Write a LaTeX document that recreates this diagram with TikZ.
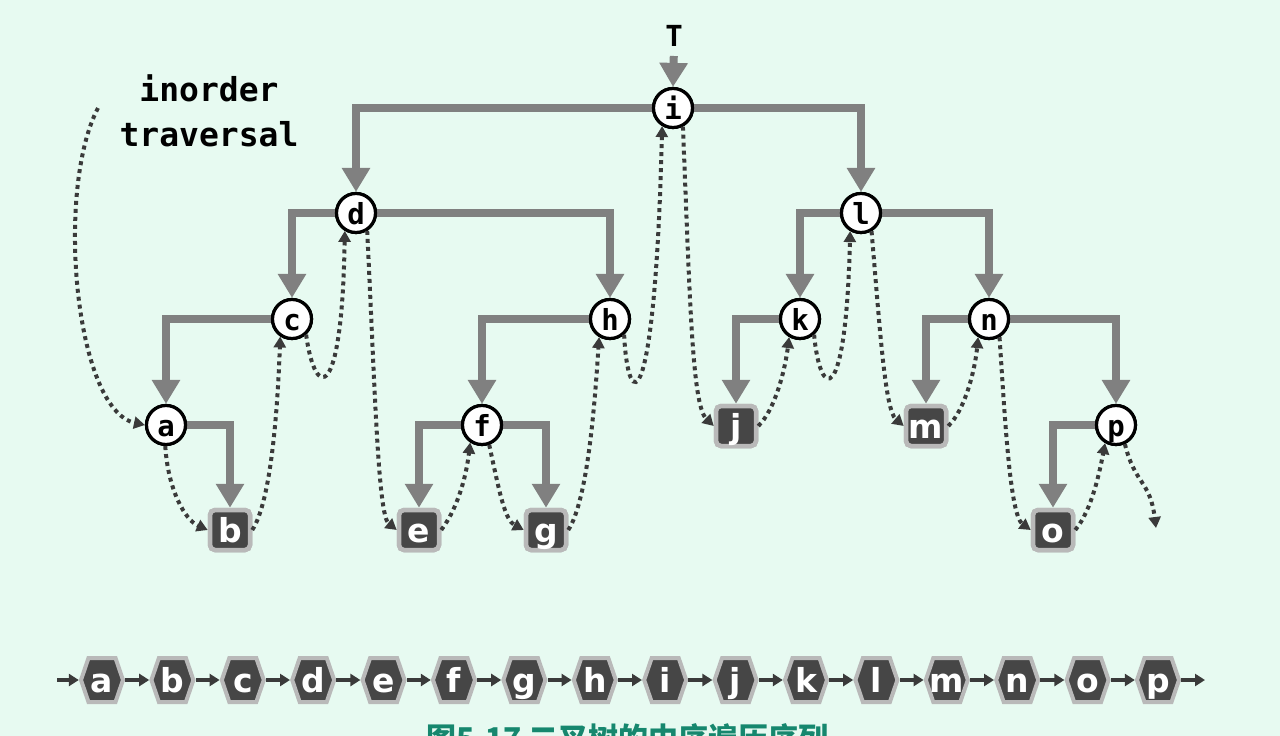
\documentclass[tikz,border=0pt]{standalone}
\usepackage{fontspec}
\setmainfont{DejaVu Sans}
\newfontfamily\monofnt{DejaVu Sans Mono}
\newfontfamily\cjkfnt{Noto Sans CJK SC}
\usetikzlibrary{arrows.meta}
\definecolor{bgmint}{RGB}{231,250,241}
\definecolor{edgegray}{RGB}{128,128,128}
\definecolor{dotgray}{RGB}{58,58,58}
\definecolor{leafdark}{RGB}{70,70,70}
\definecolor{leafrim}{RGB}{185,185,185}
\definecolor{captiongreen}{RGB}{22,135,110}
\tikzset{
  inner/.style={circle, draw=black, line width=3.2pt, fill=white, minimum size=39pt, inner sep=0pt,
    font=\monofnt\bfseries\fontsize{29}{29}\selectfont, text height=22pt, text depth=0pt},
  leaf/.style={rectangle, rounded corners=5pt, draw=leafrim, line width=4.5pt, fill=leafdark,
    minimum size=40pt, inner sep=0pt, text=white,
    font=\bfseries\fontsize{33}{33}\selectfont, text height=25pt, text depth=0pt},
  hexnode/.style={rectangle, minimum width=46pt, minimum height=48pt, inner sep=0pt, text=white,
    font=\bfseries\fontsize{33}{33}\selectfont, text height=24pt, text depth=0pt},
  hexline/.style={draw=leafrim, line width=4pt, fill=leafdark, line join=miter},
  treeedge/.style={draw=edgegray, line width=8pt, -{Triangle[width=27pt,length=24pt]}},
  thread/.style={draw=dotgray, line width=4pt, dash pattern=on 4pt off 4pt,
    -{Triangle[width=12pt,length=11pt]}},
  seqarrow/.style={draw=dotgray, line width=3.5pt, -{Triangle[width=12pt,length=10pt]}},
  labeltext/.style={font=\monofnt\bfseries\fontsize{33}{45}\selectfont, align=center, inner sep=0pt}
}
\begin{document}
\begin{tikzpicture}[x=1pt,y=-1pt]
\useasboundingbox[fill=bgmint] (0,0) rectangle (1280,736);

% nodes
\node[inner] (i) at (673,108) {i};
\node[inner] (d) at (356,213) {d};
\node[inner] (l) at (861,213) {l};
\node[inner] (c) at (292,319) {c};
\node[inner] (h) at (610,319) {h};
\node[inner] (k) at (800,319) {k};
\node[inner] (n) at (989,319) {n};
\node[inner] (a) at (166,425) {a};
\node[inner] (f) at (482,425) {f};
\node[inner] (p) at (1116,425) {p};
\node[leaf] (b) at (230,530) {b};
\node[leaf] (e) at (419,530) {e};
\node[leaf] (g) at (546,530) {g};
\node[leaf] (j) at (736,426) {j};
\node[leaf] (m) at (926,426) {m};
\node[leaf] (o) at (1053,530) {o};

\node[font=\monofnt\bfseries\fontsize{29}{29}\selectfont, inner sep=0pt, anchor=south] (T) at (674,47) {T};
\node[labeltext] (lab) at (209,111) {inorder\\traversal};
\coordinate (tstart) at (98,108);
\coordinate (pend) at (1156,528);

% tree edges
\draw[treeedge, shorten <=9pt] (T.south) -- (i.north);
\draw[treeedge] (i) -| (d);
\draw[treeedge] (i) -| (l);
\draw[treeedge] (d) -| (c);
\draw[treeedge] (d) -| (h);
\draw[treeedge] (c) -| (a);
\draw[treeedge] (a) -| (b);
\draw[treeedge] (h) -| (f);
\draw[treeedge] (f) -| (e);
\draw[treeedge] (f) -| (g);
\draw[treeedge] (l) -| (k);
\draw[treeedge] (l) -| (n);
\draw[treeedge] (k) -| (j);
\draw[treeedge] (n) -| (m);
\draw[treeedge] (n) -| (p);
\draw[treeedge] (p) -| (o);

% redraw nodes on top of edges
\foreach \nd/\x/\y in {i/673/108,d/356/213,l/861/213,c/292/319,h/610/319,k/800/319,n/989/319,a/166/425,f/482/425,p/1116/425}{
  \node[inner] (r\nd) at (\x,\y) {\nd};
}
\foreach \nd/\x/\y in {b/230/530,e/419/530,g/546/530,j/736/426,m/926/426,o/1053/530}{
  \node[leaf] (r\nd) at (\x,\y) {\nd};
}

% inorder thread
\draw[thread] (tstart) .. controls (55,190) and (75,410) .. (a.west);
\draw[thread] (a.-92) .. controls (168,490) and (185,520) .. (b.west);
\draw[thread] (b.east) .. controls (272,500) and (278,400) .. (c.-124);
\draw[thread] (c.-48) .. controls (315,400) and (342,405) .. (d.-122);
\draw[thread] (d.-58) .. controls (375,390) and (378,515) .. (e.west);
\draw[thread] (e.east) .. controls (460,505) and (467,470) .. (f.-124);
\draw[thread] (f.-70) .. controls (500,495) and (505,520) .. (g.west);
\draw[thread] (g.east) .. controls (588,500) and (595,400) .. (h.-121);
\draw[thread] (h.-48) .. controls (628,415) and (655,420) .. (i.-121);
\draw[thread] (i.-62) .. controls (690,300) and (692,405) .. (j.west);
\draw[thread] (j.east) .. controls (775,410) and (785,370) .. (k.-121);
\draw[thread] (k.-48) .. controls (820,400) and (846,410) .. (l.-121);
\draw[thread] (l.-60) .. controls (880,330) and (885,410) .. (m.west);
\draw[thread] (m.east) .. controls (965,410) and (975,370) .. (n.-121);
\draw[thread] (n.-60) .. controls (1005,420) and (1010,515) .. (o.west);
\draw[thread] (o.east) .. controls (1092,510) and (1100,470) .. (p.-121);
\draw[thread] (p.-65) .. controls (1135,485) and (1150,480) .. (pend);

% sequence
\foreach \ch [count=\k from 0] in {a,b,c,d,e,f,g,h,i,j,k,l,m,n,o,p}{
  \pgfmathsetmacro\xx{102+70.4*\k}
  \draw[hexline] (\xx-21,680) -- ++(7.5,-22) -- ++(27,0) -- ++(7.5,22) -- ++(-7.5,22) -- ++(-27,0) -- cycle;
  \node[hexnode] (s\ch) at (\xx,680) {\ch};
}
\coordinate (seqstart) at (57,680);
\coordinate (seqend) at (1205,680);
\draw[seqarrow] (seqstart) -- (sa.west);
\foreach \u/\v in {a/b,b/c,c/d,d/e,e/f,f/g,g/h,h/i,i/j,j/k,k/l,l/m,m/n,n/o,o/p}{
  \draw[seqarrow] (s\u.east) -- (s\v.west);
}
\draw[seqarrow] (sp.east) -- (seqend);

% caption (cut off at the bottom edge)
\node[font=\cjkfnt\bfseries\fontsize{30}{30}\selectfont, text=captiongreen, anchor=base west, inner sep=0pt] (cap) at (426,749) {图5.17 二叉树的中序遍历序列};
\end{tikzpicture}
\end{document}
